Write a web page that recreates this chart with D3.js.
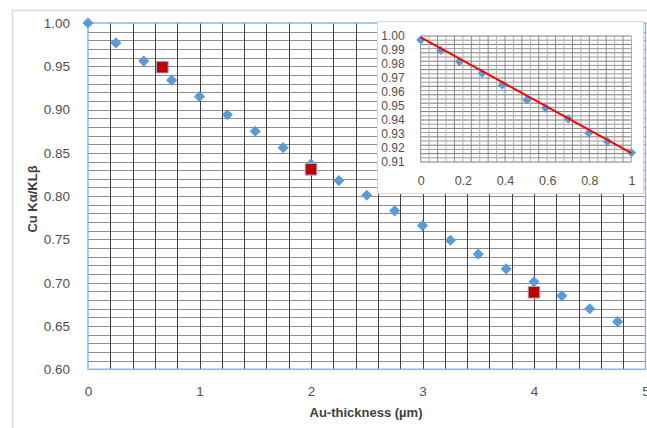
<!DOCTYPE html>
<html>
<head>
<meta charset="utf-8">
<script src="https://cdnjs.cloudflare.com/ajax/libs/d3/7.8.5/d3.min.js"></script>
<style>
  html, body { margin: 0; padding: 0; background: #ffffff; }
  svg { display: block; }
  text { font-family: "Liberation Sans", Arial, sans-serif; }
</style>
</head>
<body>
<script>
// ---------- data ----------
const mainX = [0, 0.25, 0.5, 0.75, 1.0, 1.25, 1.5, 1.75, 2.0, 2.25, 2.5, 2.75, 3.0, 3.25, 3.5, 3.75, 4.0, 4.25, 4.5, 4.75];
const mainY = [1.000, 0.977, 0.956, 0.934, 0.915, 0.894, 0.875, 0.856, 0.837, 0.818, 0.801, 0.783, 0.766, 0.749, 0.733, 0.716, 0.701, 0.685, 0.670, 0.655];
const measX = [0.667, 2.0, 4.0];
const measY = [0.949, 0.831, 0.689];
const xTicks = [0, 1, 2, 3, 4, 5];
const yTicks = [0.60, 0.65, 0.70, 0.75, 0.80, 0.85, 0.90, 0.95, 1.00];

const insetX = [0, 0.095, 0.184, 0.292, 0.387, 0.504, 0.593, 0.700, 0.797, 0.886, 1.0];
const insetY = [0.9972, 0.9897, 0.9817, 0.9734, 0.9650, 0.9544, 0.9485, 0.9408, 0.9307, 0.9246, 0.9166];
const trendX = [0, 1];
const trendY = [0.9990, 0.9163];
const insetXTicks = [0, 0.2, 0.4, 0.6, 0.8, 1];
const insetYTicks = [0.91, 0.92, 0.93, 0.94, 0.95, 0.96, 0.97, 0.98, 0.99, 1.00];

const xTitle = "Au-thickness (\u00b5m)";
const yTitle = "Cu K\u03b1/KL\u03b2";

const FONT = "'Liberation Sans', Arial, sans-serif";

// ---------- layout ----------
const W = 647, H = 428;
const svg = d3.select("body").append("svg").attr("width", W).attr("height", H);

// outer chart border
svg.append("rect").attr("x", 12.5).attr("y", 10.5).attr("width", 700).attr("height", 500)
  .attr("fill", "#fff").attr("stroke", "#d9d9d9").attr("stroke-width", 1.5);

const x = d3.scaleLinear().domain([0, 5]).range([88, 645.5]);
const y = d3.scaleLinear().domain([0.6, 1.0]).range([369.3, 23]);

const grid = svg.append("g");
// horizontal gridlines every 0.01
d3.range(1, 40).forEach(i => {
  const v = 0.6 + i * 0.01;
  grid.append("line").attr("x1", x(0)).attr("x2", x(5))
    .attr("y1", Math.round(y(v)) + 0.5).attr("y2", Math.round(y(v)) + 0.5)
    .attr("stroke", "#8c8c8c").attr("stroke-width", 1);
});
// vertical gridlines every 0.2
d3.range(1, 25).forEach(i => {
  const v = i * 0.2;
  grid.append("line").attr("y1", y(1.0)).attr("y2", y(0.6))
    .attr("x1", Math.round(x(v)) + 0.5).attr("x2", Math.round(x(v)) + 0.5)
    .attr("stroke", "#404040").attr("stroke-width", 1);
});
// plot area border
svg.append("rect").attr("x", x(0)).attr("y", y(1.0))
  .attr("width", x(5) - x(0)).attr("height", y(0.6) - y(1.0))
  .attr("fill", "none").attr("stroke", "#8eb4e3").attr("stroke-width", 1.5);

// axes
const yAxis = svg.append("g").attr("transform", `translate(${x(0) - 15},0)`)
  .call(d3.axisLeft(y).tickValues(yTicks).tickFormat(d3.format(".2f")).tickSize(0));
yAxis.select(".domain").remove();
yAxis.selectAll("text").attr("font-size", 13.5).attr("fill", "#505050")
  .style("font-family", FONT);

const xAxis = svg.append("g").attr("transform", `translate(0,${y(0.6) + 14})`)
  .call(d3.axisBottom(x).tickValues(xTicks).tickFormat(d3.format("d")).tickSize(0));
xAxis.select(".domain").remove();
xAxis.selectAll("text").attr("font-size", 13.5).attr("fill", "#505050")
  .style("font-family", FONT);

svg.append("text").attr("x", 366).attr("y", 417).attr("text-anchor", "middle")
  .attr("font-size", 13).attr("font-weight", "bold").attr("fill", "#404040").text(xTitle);
svg.append("text").attr("transform", "translate(37,199) rotate(-90)").attr("text-anchor", "middle")
  .attr("font-size", 13).attr("font-weight", "bold").attr("fill", "#404040").text(yTitle);

const diamond = d3.symbol().type(d3.symbolSquare);

// main diamonds
svg.append("g").selectAll("path").data(mainX.map((d, i) => [d, mainY[i]])).join("path")
  .attr("d", diamond.size(62)())
  .attr("transform", d => `translate(${x(d[0])},${y(d[1])}) rotate(45)`)
  .attr("fill", "#5b9bd5");

// red squares
svg.append("g").selectAll("path").data(measX.map((d, i) => [d, measY[i]])).join("path")
  .attr("d", d3.symbol().type(d3.symbolSquare).size(136)())
  .attr("transform", d => `translate(${x(d[0])},${y(d[1])})`)
  .attr("fill", "#c00000").attr("stroke", "#9db3d3").attr("stroke-width", 1);

// ---------- inset ----------
const inset = svg.append("g");
inset.append("rect").attr("x", 377.5).attr("y", 21.5).attr("width", 266).attr("height", 172)
  .attr("fill", "#fff").attr("stroke", "#d9d9d9").attr("stroke-width", 1);

const ix = d3.scaleLinear().domain([0, 1]).range([420.7, 631.5]);
const iy = d3.scaleLinear().domain([0.91, 1.0]).range([162, 36]);

d3.range(0, 31).forEach(i => {
  const v = 0.91 + i * 0.003;
  inset.append("line").attr("x1", ix(0)).attr("x2", ix(1))
    .attr("y1", iy(v)).attr("y2", iy(v))
    .attr("stroke", i % 2 === 0 ? "#7a7a7a" : "#9a9a9a").attr("stroke-width", 1);
});
d3.range(0, 26).forEach(i => {
  const v = i * 0.04;
  inset.append("line").attr("y1", iy(1.0)).attr("y2", iy(0.91))
    .attr("x1", ix(v)).attr("x2", ix(v))
    .attr("stroke", i % 2 === 0 ? "#8a8a8a" : "#b0b0b0").attr("stroke-width", 1);
});

const iyAxis = inset.append("g").attr("transform", `translate(${ix(0) - 13},0)`)
  .call(d3.axisLeft(iy).tickValues(insetYTicks).tickFormat(d3.format(".2f")).tickSize(0));
iyAxis.select(".domain").remove();
iyAxis.selectAll("text").attr("font-size", 12).attr("fill", "#505050")
  .style("font-family", FONT);

const ixAxis = inset.append("g").attr("transform", `translate(0,${iy(0.91) + 11})`)
  .call(d3.axisBottom(ix).tickValues(insetXTicks).tickFormat(d => d3.format("")(d)).tickSize(0));
ixAxis.select(".domain").remove();
ixAxis.selectAll("text").attr("font-size", 12.5).attr("fill", "#505050")
  .style("font-family", FONT);

inset.append("g").selectAll("path").data(insetX.map((d, i) => [d, insetY[i]])).join("path")
  .attr("d", diamond.size(42)())
  .attr("transform", d => `translate(${ix(d[0])},${iy(d[1])}) rotate(45)`)
  .attr("fill", "#5b9bd5");

inset.append("path").datum(trendX.map((d, i) => [d, trendY[i]]))
  .attr("d", d3.line().x(d => ix(d[0])).y(d => iy(d[1])))
  .attr("fill", "none").attr("stroke", "#ff0000").attr("stroke-width", 2);
</script>
</body>
</html>
